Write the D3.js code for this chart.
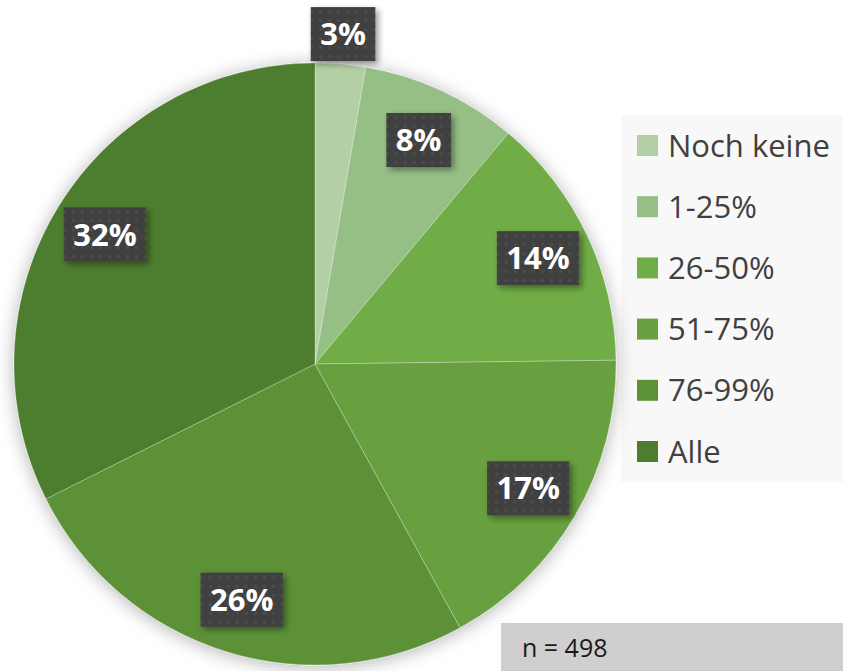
<!DOCTYPE html>
<html>
<head>
<meta charset="utf-8">
<script src="https://cdn.jsdelivr.net/npm/d3@7"></script>
<style>
  html, body { margin: 0; padding: 0; background: #fff; }
  svg { display: block; }
</style>
</head>
<body>
<div id="chart"></div>
<script>
// shares read from the slice boundaries, labels as printed on the chart
var categories = ['Noch keine', '1-25%', '26-50%', '51-75%', '76-99%', 'Alle'];
var shares = [2.7, 8.4, 13.7, 17.2, 25.6, 32.4];
var labelTexts = ['3%', '8%', '14%', '17%', '26%', '32%'];
var sliceColors = ['#b3cfa5', '#95bf85', '#70ad47', '#68a040', '#5b9137', '#4e7d2f'];
var sampleNote = 'n = 498';

var width = 843, height = 671;
var cx = 315, cy = 364, radius = 301;

var svg = d3.select('#chart').append('svg')
  .attr('width', width)
  .attr('height', height);

var defs = svg.append('defs');

var pieShadow = defs.append('filter').attr('id', 'pieShadow')
  .attr('x', '-20%').attr('y', '-20%').attr('width', '140%').attr('height', '140%');
pieShadow.append('feDropShadow')
  .attr('dx', 0).attr('dy', 2).attr('stdDeviation', 9)
  .attr('flood-color', '#000').attr('flood-opacity', 0.3);

var boxShadow = defs.append('filter').attr('id', 'boxShadow')
  .attr('x', '-30%').attr('y', '-30%').attr('width', '160%').attr('height', '160%');
boxShadow.append('feDropShadow')
  .attr('dx', 3).attr('dy', 3).attr('stdDeviation', 3)
  .attr('flood-color', '#000').attr('flood-opacity', 0.4);

// dotted texture of the label boxes
var dots = defs.append('pattern').attr('id', 'dots')
  .attr('width', 9).attr('height', 9).attr('patternUnits', 'userSpaceOnUse');
dots.append('rect').attr('width', 9).attr('height', 9).attr('fill', '#404040');
dots.append('circle').attr('cx', 4.5).attr('cy', 4.5).attr('r', 1.6).attr('fill', '#4d4d4d');

// legend panel
var legend = svg.append('g');
legend.append('rect')
  .attr('x', 621).attr('y', 115).attr('width', width - 621).attr('height', 367)
  .attr('fill', '#f8f8f8');

var legendY = d3.scalePoint().domain(categories).range([145.5, 451.5]);

var item = legend.selectAll('g.item').data(categories).enter().append('g')
  .attr('class', 'item')
  .attr('transform', function (d) { return 'translate(637,' + legendY(d) + ')'; });
item.append('rect')
  .attr('x', 0).attr('y', -10.5).attr('width', 21).attr('height', 21)
  .attr('fill', function (d, i) { return sliceColors[i]; });
item.append('text')
  .attr('x', 31).attr('y', 0).attr('dy', '0.36em')
  .style('font-family', '"Open Sans", sans-serif')
  .style('font-size', '31px')
  .attr('fill', '#404040')
  .text(function (d) { return d; });

// pie
var pie = d3.pie().sort(null).value(function (d) { return d; });
var arcs = pie(shares);
var arc = d3.arc().innerRadius(0).outerRadius(radius);

var pieG = svg.append('g').attr('transform', 'translate(' + cx + ',' + cy + ')');
pieG.append('g').attr('filter', 'url(#pieShadow)')
  .selectAll('path').data(arcs).enter().append('path')
  .attr('d', arc)
  .attr('fill', function (d, i) { return sliceColors[i]; })
  .attr('stroke', '#ffffff').attr('stroke-opacity', 0.35).attr('stroke-width', 0.8);

// data labels
var inner = d3.arc().innerRadius(radius * 0.82).outerRadius(radius * 0.82);
var outer = d3.arc().innerRadius(radius * 1.1).outerRadius(radius * 1.1);

var lab = pieG.selectAll('g.lab').data(arcs).enter().append('g')
  .attr('class', 'lab')
  .attr('transform', function (d) {
    var c = (d.data < 5 ? outer : inner).centroid(d);
    return 'translate(' + c[0] + ',' + c[1] + ')';
  });

var labText = lab.append('text')
  .attr('text-anchor', 'middle').attr('dy', '0.36em')
  .style('font-family', '"Open Sans", sans-serif')
  .style('font-size', '31px').style('font-weight', 'bold')
  .attr('fill', '#ffffff')
  .text(function (d, i) { return labelTexts[i]; });

labText.each(function () {
  var w = this.getBBox().width + 19;
  d3.select(this.parentNode).insert('rect', 'text')
    .attr('x', -w / 2).attr('y', -27).attr('width', w).attr('height', 54)
    .attr('fill', 'url(#dots)')
    .attr('filter', 'url(#boxShadow)');
});

// sample size note
svg.append('rect')
  .attr('x', 501).attr('y', 623).attr('width', width - 501).attr('height', height - 623)
  .attr('fill', '#d0cece');
svg.append('text')
  .attr('x', 522).attr('y', 657)
  .style('font-family', '"Open Sans", sans-serif')
  .style('font-size', '25px')
  .attr('fill', '#1a1a1a')
  .text(sampleNote);
</script>
</body>
</html>
